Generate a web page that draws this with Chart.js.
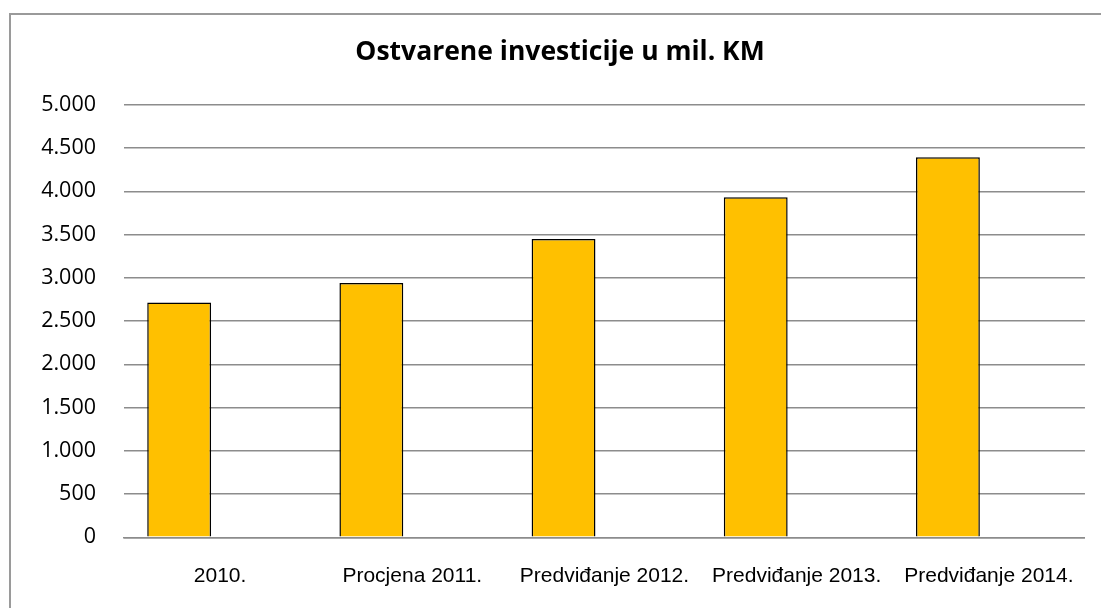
<!DOCTYPE html>
<html>
<head>
<meta charset="utf-8">
<script src="https://cdn.jsdelivr.net/npm/chart.js@4"></script>
<style>
  html, body { margin: 0; padding: 0; background: #fff; }
  canvas { display: block; }
</style>
</head>
<body>
<canvas id="chart" width="1101" height="608"></canvas>
<script>
const categories = ["2010.", "Procjena 2011.", "Predviđanje 2012.", "Predviđanje 2013.", "Predviđanje 2014."];
const investments = [2715, 2940, 3450, 3930, 4395];
// second (empty) series of the original sheet, keeps the bars left of centre
const emptySeries = [null, null, null, null, null];
const yTicks = [0, 500, 1000, 1500, 2000, 2500, 3000, 3500, 4000, 4500, 5000];

const fmt = (v) => String(v).replace(/\B(?=(\d{3})+(?!\d))/g, ".");

const frame = {
  id: "frame",
  beforeDraw(chart) {
    const ctx = chart.ctx;
    ctx.save();
    ctx.fillStyle = "#fff";
    ctx.fillRect(0, 0, chart.width, chart.height);
    ctx.strokeStyle = "#9a9a9a";
    ctx.lineWidth = 2;
    ctx.strokeRect(10, 14, chart.width + 20, chart.height + 20);
    ctx.restore();
  },
};

new Chart(document.getElementById("chart"), {
  type: "bar",
  data: {
    labels: categories,
    datasets: [
      {
        label: "Investicije",
        data: investments,
        backgroundColor: "#FFC000",
        borderColor: "#000",
        borderWidth: 1.5,
        barPercentage: 0.78,
        categoryPercentage: 0.852,
      },
      {
        label: "",
        data: emptySeries,
        backgroundColor: "#FFC000",
        barPercentage: 0.78,
        categoryPercentage: 0.852,
      },
    ],
  },
  options: {
    responsive: false,
    animation: false,
    devicePixelRatio: 1,
    layout: { padding: { left: 34, right: 15, top: 0, bottom: 0 } },
    plugins: {
      legend: { display: false },
      tooltip: { enabled: false },
      title: {
        display: true,
        text: "Ostvarene investicije u mil. KM",
        color: "#000",
        font: { family: "Open Sans", size: 26.5, weight: "bold" },
        padding: { top: 37, bottom: 36 },
      },
    },
    scales: {
      x: {
        grid: { display: false, drawTicks: false },
        border: { display: true, color: "#8c8c8c", width: 1.5 },
        ticks: {
          color: "#000",
          font: { family: "Liberation Sans", size: 21 },
          padding: 26,
          maxRotation: 0,
          autoSkip: false,
        },
        afterFit: (s) => { s.height = 70.7; },
      },
      y: {
        min: 0,
        max: 5000,
        afterBuildTicks: (s) => { s.ticks = yTicks.map((v) => ({ value: v })); },
        grid: { color: "#8c8c8c", lineWidth: 1.5, drawTicks: false },
        border: { display: false },
        ticks: {
          color: "#000",
          font: { family: "Open Sans", size: 21.5 },
          padding: 28,
          callback: (v) => fmt(v),
        },
        afterFit: (s) => { s.width = 90; },
      },
    },
  },
  plugins: [frame],
});
</script>
</body>
</html>
